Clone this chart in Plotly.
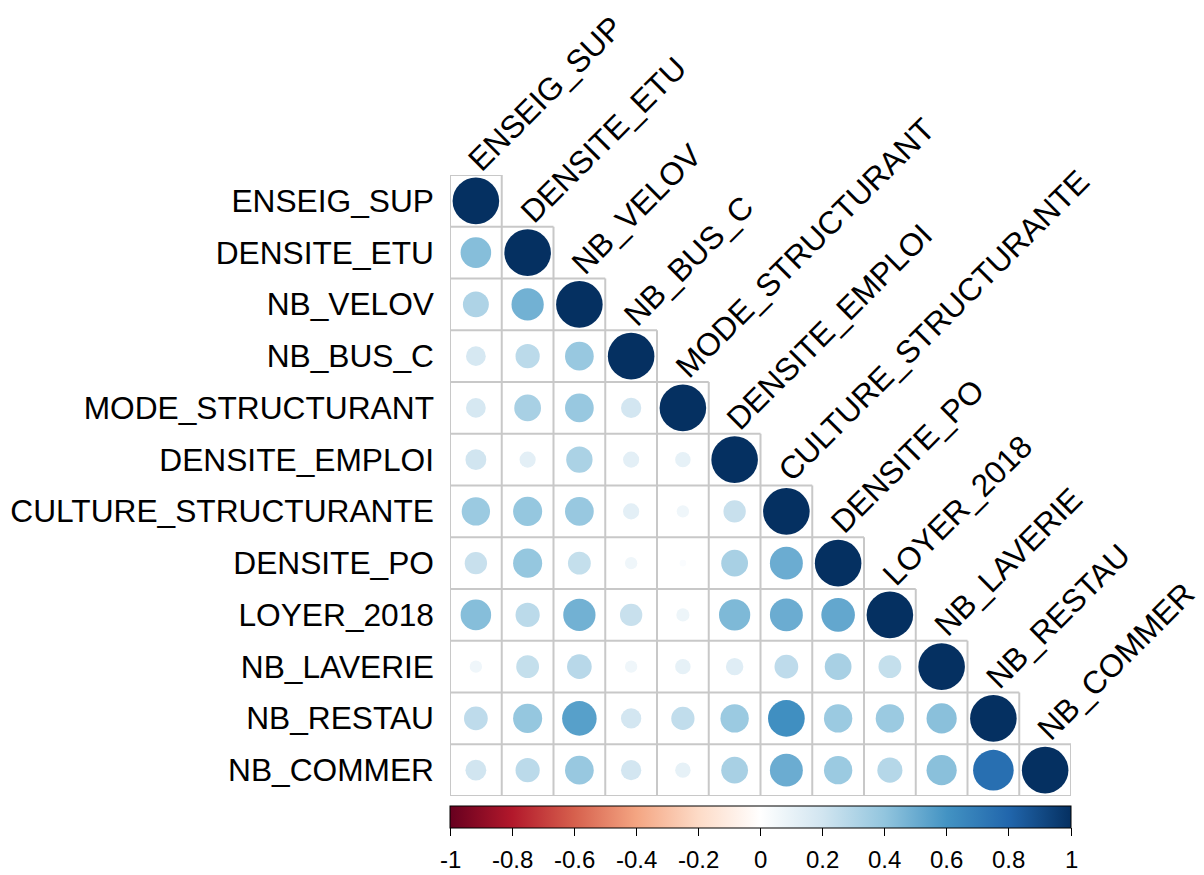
import numpy as np
import plotly.graph_objects as go

variables = ["ENSEIG_SUP", "DENSITE_ETU", "NB_VELOV", "NB_BUS_C", "MODE_STRUCTURANT",
             "DENSITE_EMPLOI", "CULTURE_STRUCTURANTE", "DENSITE_PO", "LOYER_2018",
             "NB_LAVERIE", "NB_RESTAU", "NB_COMMER"]

# lower-triangle correlations (row variable vs. preceding column variables)
row_enseig_sup = []
row_densite_etu = [0.43]
row_nb_velov = [0.31, 0.48]
row_nb_bus_c = [0.18, 0.27, 0.38]
row_mode_struct = [0.18, 0.33, 0.38, 0.19]
row_densite_emploi = [0.20, 0.12, 0.32, 0.12, 0.11]
row_culture_struct = [0.37, 0.39, 0.38, 0.12, 0.07, 0.23]
row_densite_po = [0.23, 0.39, 0.24, 0.07, 0.02, 0.33, 0.50]
row_loyer_2018 = [0.43, 0.27, 0.48, 0.23, 0.08, 0.45, 0.50, 0.52]
row_nb_laverie = [0.07, 0.24, 0.28, 0.07, 0.11, 0.14, 0.26, 0.33, 0.24]
row_nb_restau = [0.26, 0.39, 0.55, 0.19, 0.25, 0.37, 0.62, 0.37, 0.37, 0.42]
row_nb_commer = [0.20, 0.27, 0.38, 0.19, 0.11, 0.33, 0.50, 0.37, 0.29, 0.42, 0.76]

colorbar_ticks = [-1, -0.8, -0.6, -0.4, -0.2, 0, 0.2, 0.4, 0.6, 0.8, 1]
colorbar_ticktext = ["-1", "-0.8", "-0.6", "-0.4", "-0.2", "0", "0.2", "0.4", "0.6", "0.8", "1"]

rdbu = ["#67001F", "#B2182B", "#D6604D", "#F4A582", "#FDDBC7", "#FFFFFF",
        "#D1E5F0", "#92C5DE", "#4393C3", "#2166AC", "#053061"]
colorscale = [[i / (len(rdbu) - 1), c] for i, c in enumerate(rdbu)]

rows = [row_enseig_sup, row_densite_etu, row_nb_velov, row_nb_bus_c, row_mode_struct,
        row_densite_emploi, row_culture_struct, row_densite_po, row_loyer_2018,
        row_nb_laverie, row_nb_restau, row_nb_commer]

FONT = "Liberation Sans, Arial"
n = len(variables)
xs, ys, vals = [], [], []
for i, r in enumerate(rows):
    for j, v in enumerate(r + [1.0]):
        xs.append(j + 1)
        ys.append(i + 1)
        vals.append(v)
vals = np.array(vals)

# pixel geometry (page body adds an 8px offset)
ml, mt = 442, 167
plot_px = 621
mr, mb = 133, 79
W, H = ml + plot_px + mr, mt + plot_px + mb
cell = plot_px / n
max_diam = 0.9 * cell
sizes = max_diam * np.sqrt(np.abs(vals))

# grid lines of lower triangle
gx, gy = [], []
for k in range(1, n + 2):
    yk = k - 0.5
    xend = min(k, n) + 0.5
    gx += [0.5, xend, None]
    gy += [yk, yk, None]
for c in range(1, n + 2):
    xc = c - 0.5
    ystart = max(c - 1, 1) - 0.5
    gx += [xc, xc, None]
    gy += [ystart, n + 0.5, None]

fig = go.Figure()
fig.add_trace(go.Scatter(x=gx, y=gy, mode="lines",
                         line=dict(color="#C8C8C8", width=2),
                         hoverinfo="skip", showlegend=False))
fig.add_trace(go.Scatter(
    x=xs, y=ys, mode="markers", showlegend=False,
    marker=dict(size=sizes, color=vals, colorscale=colorscale, cmin=-1, cmax=1,
                line=dict(width=0), opacity=1,
                colorbar=dict(orientation="h", x=0, xanchor="left",
                              y=-10 / plot_px, yanchor="top",
                              len=1, lenmode="fraction", thickness=22,
                              xpad=0, ypad=0, outlinecolor="black", outlinewidth=1,
                              ticks="outside", ticklen=8, tickcolor="black", tickwidth=1,
                              tickvals=colorbar_ticks, showticklabels=False))
))

# colorbar tick labels placed under the bar (bar spans full plot width)
for v, t in zip(colorbar_ticks, colorbar_ticktext):
    fig.add_annotation(x=(v + 1) / 2, y=-(H - mt - plot_px - 1) / plot_px,
                       xref="paper", yref="paper",
                       text=t, showarrow=False, xanchor="center", yanchor="bottom",
                       borderpad=0,
                       font=dict(size=24, color="black", family=FONT))

for j, name in enumerate(variables):
    fig.add_annotation(x=j + 1, y=j + 0.5, xref="x", yref="y", text=name,
                       textangle=-45, xanchor="left", yanchor="bottom",
                       xshift=-16, yshift=-4, showarrow=False, borderpad=0,
                       font=dict(size=31.7, color="black", family=FONT))

fig.update_xaxes(range=[0.5, n + 0.5], showgrid=False, zeroline=False,
                 showticklabels=False, ticks="", showline=False, automargin=False)
fig.update_yaxes(range=[n + 0.5, 0.5], showgrid=False, zeroline=False,
                 tickvals=list(range(1, n + 1)), ticktext=variables, ticks="",
                 ticklabelstandoff=15, showline=False, automargin=False,
                 tickfont=dict(size=31.7, color="black", family=FONT))

fig.update_layout(width=W, height=H, margin=dict(l=ml, r=mr, t=mt, b=mb),
                  plot_bgcolor="white", paper_bgcolor="white",
                  font=dict(family=FONT))

fig.write_html("out.html")
